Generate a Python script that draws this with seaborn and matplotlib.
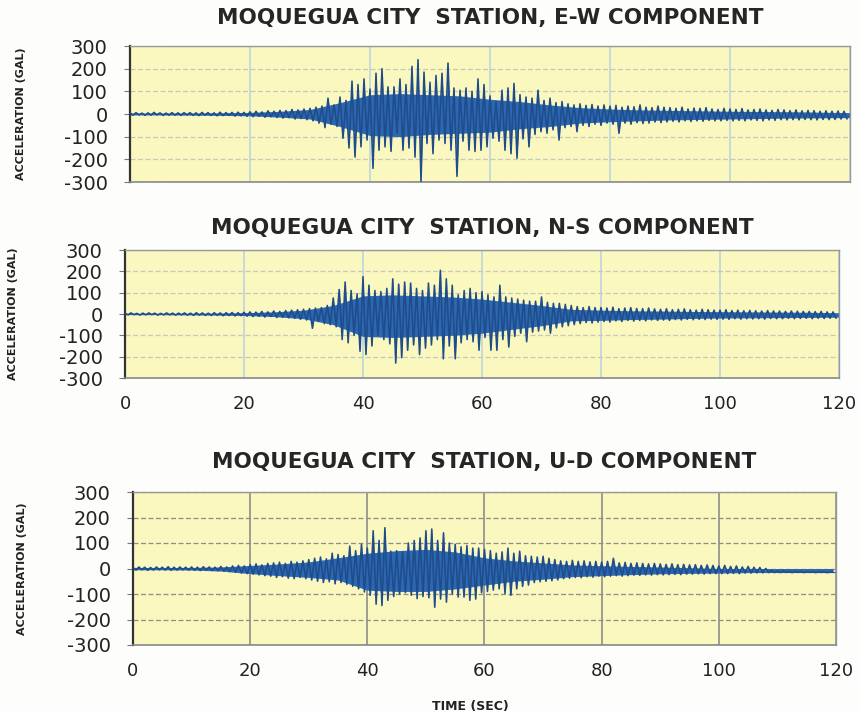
import numpy as np
import pandas as pd
import matplotlib
matplotlib.use("Agg")
import matplotlib.pyplot as plt
import seaborn as sns

# ---- data: peak accelerations (gal), one positive peak at each whole second
# and one negative peak half a second later, 0-119 s ----
seconds = list(range(120))

ew_up = [5, 6, 4, 5, 7, 5, 4, 6, 5, 6,
         6, 5, 7, 6, 5, 8, 6, 7, 8, 7,
         10, 12, 9, 14, 12, 16, 15, 20, 18, 22,
         25, 30, 35, 70, 40, 75, 60, 145, 130, 155,
         110, 180, 200, 120, 120, 155, 130, 210, 240, 185,
         140, 170, 180, 225, 115, 105, 115, 100, 155, 130,
         80, 55, 105, 115, 135, 85, 75, 70, 105, 60,
         70, 50, 55, 45, 40, 45, 38, 42, 35, 40,
         35, 38, 30, 35, 32, 40, 30, 28, 35, 30,
         28, 25, 30, 22, 26, 25, 28, 22, 20, 25,
         22, 20, 24, 18, 20, 22, 18, 16, 20, 18,
         15, 18, 14, 16, 15, 12, 14, 12, 13, 12]
ew_down = [-5, -4, -6, -5, -4, -6, -5, -5, -6, -4,
           -6, -7, -5, -6, -8, -7, -6, -9, -8, -10,
           -12, -10, -14, -12, -15, -18, -16, -22, -20, -25,
           -30, -40, -60, -45, -55, -107, -150, -190, -145, -115,
           -240, -160, -145, -165, -85, -160, -150, -190, -300, -130,
           -175, -115, -130, -160, -275, -120, -160, -165, -160, -145,
           -107, -120, -160, -175, -195, -110, -145, -90, -78, -85,
           -70, -115, -60, -55, -78, -50, -55, -45, -50, -40,
           -45, -85, -40, -45, -38, -42, -40, -35, -38, -35,
           -32, -35, -30, -33, -30, -32, -28, -30, -30, -28,
           -30, -28, -30, -26, -28, -30, -26, -28, -25, -26,
           -25, -26, -24, -25, -26, -24, -25, -24, -22, -22]

ns_up = [4, 5, 3, 4, 5, 4, 3, 5, 4, 4,
         5, 4, 6, 5, 4, 6, 5, 6, 7, 6,
         8, 10, 9, 12, 10, 14, 12, 16, 18, 20,
         22, 25, 28, 30, 40, 75, 115, 150, 110, 95,
         175, 135, 110, 105, 120, 165, 140, 150, 145, 120,
         110, 145, 135, 205, 165, 135, 90, 110, 120, 100,
         105, 90, 80, 135, 80, 75, 70, 65, 60, 60,
         80, 55, 50, 50, 45, 40, 35, 30, 35, 30,
         30, 28, 32, 25, 28, 30, 26, 25, 28, 24,
         22, 25, 20, 22, 24, 20, 18, 22, 20, 18,
         18, 20, 16, 18, 15, 17, 15, 14, 16, 14,
         14, 12, 14, 13, 12, 12, 11, 12, 10, 10]
ns_down = [-4, -3, -5, -4, -3, -5, -4, -4, -5, -4,
           -5, -6, -5, -6, -7, -6, -8, -7, -9, -8,
           -10, -12, -11, -14, -12, -16, -15, -18, -20, -25,
           -28, -67, -35, -45, -50, -60, -120, -135, -100, -175,
           -190, -150, -100, -120, -140, -230, -205, -170, -145, -190,
           -160, -145, -120, -210, -150, -210, -135, -120, -130, -170,
           -110, -170, -170, -120, -155, -105, -90, -130, -85, -80,
           -75, -90, -65, -60, -55, -50, -45, -40, -42, -38,
           -35, -38, -32, -35, -30, -33, -30, -32, -28, -30,
           -28, -30, -26, -28, -25, -27, -25, -26, -24, -25,
           -24, -25, -22, -24, -22, -23, -22, -24, -21, -22,
           -22, -20, -22, -21, -20, -22, -20, -21, -20, -20]

ud_up = [5, 6, 5, 4, 6, 5, 7, 5, 6, 5,
         6, 5, 7, 6, 5, 8, 6, 10, 12, 10,
         15, 18, 14, 20, 22, 25, 20, 28, 25, 30,
         35, 40, 45, 38, 60, 55, 50, 88, 70, 95,
         80, 148, 110, 160, 68, 70, 65, 100, 110, 120,
         148, 155, 110, 140, 100, 95, 85, 90, 80, 80,
         75, 70, 60, 65, 80, 60, 68, 50, 48, 45,
         48, 40, 35, 30, 28, 32, 28, 30, 26, 28,
         25, 28, 40, 22, 24, 20, 22, 20, 18, 20,
         18, 16, 18, 15, 16, 14, 15, 12, 14, 12,
         10, 12, 8, 10, 6, 8, 5, 4, 0, -8,
         -10, -10, -12, -12, -12, -13, -13, -14, -14, -14]
ud_down = [-6, -5, -7, -6, -5, -6, -7, -6, -5, -6,
           -7, -8, -6, -8, -9, -10, -12, -15, -18, -20,
           -22, -25, -28, -30, -35, -32, -38, -40, -35, -40,
           -45, -50, -55, -52, -60, -55, -62, -70, -80, -92,
           -105, -140, -145, -125, -110, -100, -95, -105, -118, -110,
           -115, -152, -120, -132, -100, -112, -112, -125, -120, -95,
           -90, -85, -80, -98, -105, -80, -70, -65, -55, -52,
           -50, -48, -45, -40, -38, -35, -36, -32, -34, -30,
           -32, -30, -28, -30, -28, -26, -27, -25, -26, -24,
           -25, -24, -23, -24, -22, -22, -21, -22, -20, -20,
           -20, -20, -19, -20, -18, -18, -17, -17, -16, -16,
           -16, -15, -16, -15, -16, -15, -16, -15, -16, -15]

# ---- dense-band limits of the record (gal), every 5 s from 0 to 120 s ----
band_times = list(range(0, 121, 5))
ew_band_up = [4, 4, 4, 5, 7, 12, 20, 50, 85, 90, 85, 80, 65,
              55, 40, 28, 22, 18, 16, 14, 12, 11, 10, 8, 6]
ew_band_dn = [-4, -4, -5, -6, -8, -14, -22, -55, -95, -100, -90, -85, -80,
              -65, -55, -40, -34, -30, -26, -24, -22, -20, -18, -17, -16]
ns_band_up = [3, 3, 3, 4, 6, 10, 18, 40, 85, 90, 85, 80, 70,
              55, 40, 22, 18, 15, 14, 12, 11, 10, 9, 8, 6]
ns_band_dn = [-3, -3, -4, -5, -7, -12, -22, -50, -105, -110, -105, -100, -90,
              -72, -55, -32, -30, -26, -24, -21, -19, -18, -17, -16, -15]
ud_band_up = [4, 4, 4, 6, 12, 18, 26, 42, 60, 70, 75, 65, 42,
              30, 22, 14, 11, 8, 6, 3, 0, -3, -8, -10, -12]
ud_band_dn = [-5, -5, -6, -10, -20, -28, -35, -45, -85, -90, -90, -80, -65,
              -50, -42, -32, -28, -24, -21, -19, -18, -16, -16, -16, -16]

components = ["E-W", "N-S", "U-D"]
y_ticks = [300, 200, 100, 0, -100, -200, -300]
y_tick_labels = ["300", "200", "100", "0", "-100", "-200", "-300"]
x_ticks = [0, 20, 40, 60, 80, 100, 120]
x_tick_labels = ["0", "20", "40", "60", "80", "100", "120"]
station = "MOQUEGUA CITY  STATION"


def trace_frame(up, down):
    """Interleave the positive and negative peaks into one time series."""
    t = np.column_stack([seconds, np.asarray(seconds) + 0.5]).ravel()
    a = np.column_stack([up, down]).ravel()
    return pd.DataFrame({"time": t, "accel": a})


sns.set_theme(style="white")
plt.rcParams["font.family"] = ["DejaVu Sans"]
plt.rcParams["axes.unicode_minus"] = False

fig = plt.figure(figsize=(8.59, 7.12), dpi=100, facecolor="#fdfdfb")

# axes boxes in figure fractions
boxes = [
    [130 / 859, 1 - 182 / 712, 720 / 859, 136 / 712],
    [125 / 859, 1 - 378 / 712, 714 / 859, 128 / 712],
    [133 / 859, 1 - 645 / 712, 703 / 859, 153 / 712],
]
title_y = [18, 228, 462]
ylabel_x = [-0.145, -0.15, -0.151]
series = [(ew_up, ew_down, ew_band_up, ew_band_dn),
          (ns_up, ns_down, ns_band_up, ns_band_dn),
          (ud_up, ud_down, ud_band_up, ud_band_dn)]
fill_col = "#2c68b1"
line_col = "#1f4c8a"

for i, (box, comp, (up, down, b_up, b_dn)) in enumerate(zip(boxes, components, series)):
    ax = fig.add_axes(box)
    ax.set_facecolor("#faf7bf")
    df = trace_frame(up, down)
    # dense core of the record
    ax.fill_between(band_times, b_dn, b_up, color=fill_col, linewidth=0, zorder=2)
    ax.fill_between(df["time"], df["accel"], 0, color=fill_col, linewidth=0,
                    interpolate=True, zorder=2)
    sns.lineplot(data=df, x="time", y="accel", ax=ax, color=line_col,
                 linewidth=1.15, estimator=None, sort=False, zorder=3)
    ax.set_xlim(0, 120)
    ax.set_ylim(-300, 300)
    ax.set_yticks(y_ticks)
    ax.set_yticklabels(y_tick_labels, fontsize=14)
    ax.set_xticks(x_ticks)
    if i == 0:
        ax.set_xticklabels([])
    else:
        ax.set_xticklabels(x_tick_labels, fontsize=13)
    ax.tick_params(axis="y", length=4, width=0.8, color="#777777", pad=12,
                   left=True, labelcolor="#222222")
    ax.tick_params(axis="x", length=0, pad=12, labelcolor="#222222")
    gcol = "#8e8e8e" if i == 2 else "#bcd6dc"
    ax.xaxis.grid(True, color=gcol, linewidth=1.2, zorder=0)
    ax.yaxis.grid(True, color="#c8c8b8" if i < 2 else "#8e8e8e",
                  linewidth=0.9, linestyle=(0, (4, 2)), zorder=0)
    ax.set_axisbelow(True)
    for side, col, lw in [("left", "#333333", 1.6), ("bottom", "#888888", 1.2),
                          ("top", "#999999", 1.0), ("right", "#999999", 1.0)]:
        ax.spines[side].set_color(col)
        ax.spines[side].set_linewidth(lw)
    ax.set_ylabel("ACCELERATION (GAL)", fontsize=8, fontweight="bold",
                  color="#222222")
    ax.yaxis.set_label_coords(ylabel_x[i], 0.5)
    if i == 2:
        ax.set_xlabel("TIME (SEC)", fontsize=9, fontweight="bold",
                      color="#222222")
        ax.xaxis.set_label_coords(0.48, -0.36)
    else:
        ax.set_xlabel("")
    cx = box[0] + box[2] / 2
    fig.text(cx, 1 - title_y[i] / 712, f"{station}, {comp} COMPONENT",
             ha="center", va="center", fontsize=15.5, fontweight="bold",
             color="#262626")

fig.savefig("out.png", dpi=100, facecolor=fig.get_facecolor())
